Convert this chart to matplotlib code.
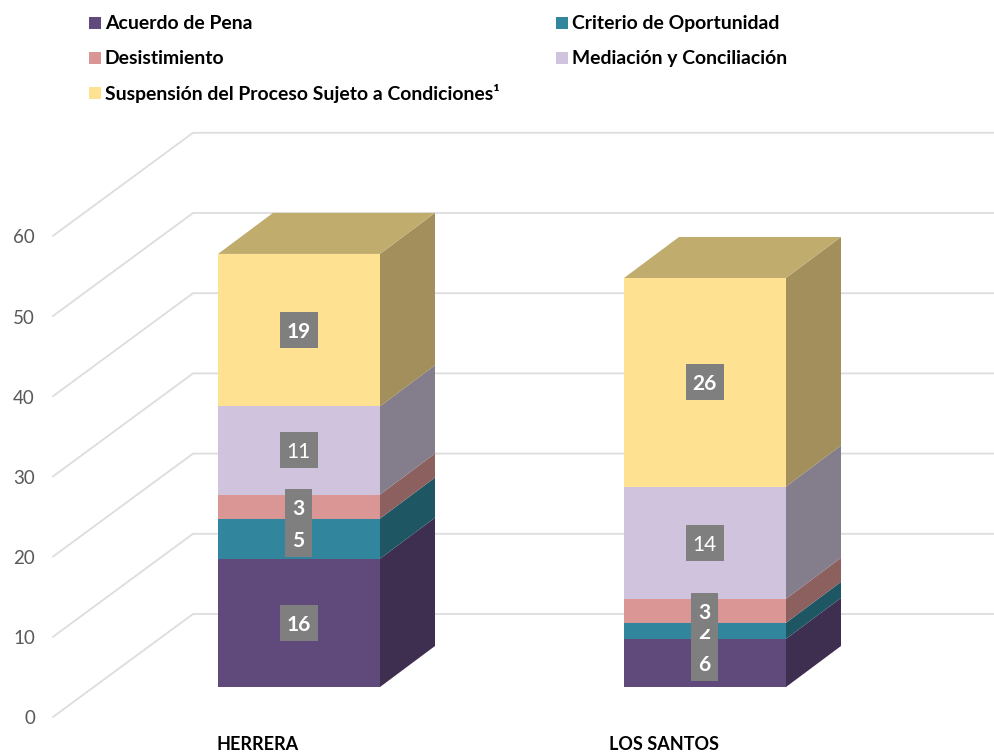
import matplotlib
matplotlib.use('Agg')
import matplotlib.pyplot as plt
from matplotlib.patches import Polygon, Rectangle

plt.rcParams['font.family'] = ['Lato', 'DejaVu Sans']

regions = ['HERRERA', 'LOS SANTOS']
series = ['Acuerdo de Pena', 'Criterio de Oportunidad', 'Desistimiento',
          'Mediación y Conciliación', 'Suspensión del Proceso Sujeto a Condiciones¹']
herrera = [16, 5, 3, 11, 19]
los_santos = [6, 2, 3, 14, 26]
yticks = [0, 10, 20, 30, 40, 50, 60]

front = ['#604A7B', '#31859C', '#D99694', '#CFC3DD', '#FFE291']
side = ['#3E2E50', '#1F5663', '#8D6060', '#837D8C', '#A38F5B']
top_face = '#C0AD6E'

# oblique projection, all in pixels of the 995x756 picture
unit = 8.02
floor_y = 687
depth_x, depth_y = 55, 41
bar_w = 162
bar_left = [218, 624]

fig = plt.figure(figsize=(9.95, 7.56), dpi=100)
ax = fig.add_axes([0, 0, 1, 1])
ax.set_xlim(0, 995)
ax.set_ylim(756, 0)
ax.axis('off')

# walls
for t in yticks:
    y0 = 717 - t * unit
    y1 = 614 - t * unit
    ax.plot([53, 193, 995], [y0, y1, y1], color='#DDDDDD', lw=1.3, zorder=1)
    ax.text(35, y0 + 2, str(t), ha='right', va='center', fontsize=13.5, color='#595959')


def val_y(v):
    return floor_y - v * unit


for left, vals in zip(bar_left, [herrera, los_santos]):
    base = 0
    for i, v in enumerate(vals):
        y0, y1 = val_y(base), val_y(base + v)
        r = left + bar_w
        ax.add_patch(Polygon([(left, y0), (r, y0), (r, y1), (left, y1)], fc=front[i], ec='none', zorder=3))
        ax.add_patch(Polygon([(r, y0), (r + depth_x, y0 - depth_y), (r + depth_x, y1 - depth_y), (r, y1)],
                             fc=side[i], ec='none', zorder=3))
        base += v
    y_top = val_y(base)
    ax.add_patch(Polygon([(left, y_top), (left + bar_w, y_top),
                          (left + bar_w + depth_x, y_top - depth_y), (left + depth_x, y_top - depth_y)],
                         fc=top_face, ec='none', zorder=3))

    # value labels, later ones cover the earlier ones
    base = 0
    cx = left + 80.5
    for i, v in enumerate(vals):
        cy = val_y(base + v / 2)
        w = 38 if v >= 10 else 27
        ax.add_patch(Rectangle((cx - w / 2, cy - 18), w, 36, fc='#7F7F7F', ec='none', zorder=4 + i))
        weight = 'normal' if i == 3 else 'bold'
        ax.text(cx, cy, str(v), ha='center', va='center_baseline', color='white', fontsize=15,
                fontweight=weight, zorder=4 + i)
        base += v

for left, name in zip([217, 609], regions):
    ax.text(left, 744, name, ha='left', va='center', fontsize=13, fontweight='bold', color='black')

# legend
legend_x = [89, 556, 89, 556, 89]
legend_y = [23, 23, 58, 58, 93]
for name, c, lx, ly in zip(series, front, legend_x, legend_y):
    ax.add_patch(Rectangle((lx, ly - 6), 12, 12, fc=c, ec='none'))
    ax.text(lx + 16, ly + 0.5, name, ha='left', va='center', fontsize=13.95, fontweight='bold', color='black')

fig.savefig('out.png', dpi=100)
